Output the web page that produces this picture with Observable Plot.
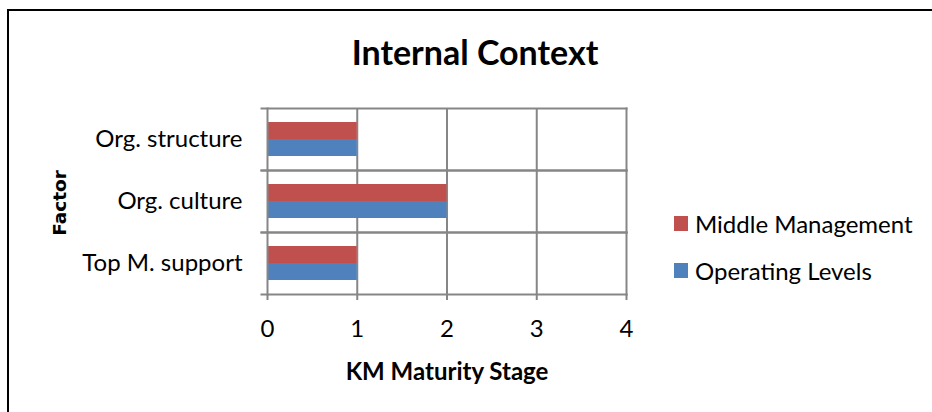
<!DOCTYPE html>
<html>
<head>
<meta charset="utf-8">
<script src="https://cdn.jsdelivr.net/npm/d3@7"></script>
<script src="https://cdn.jsdelivr.net/npm/@observablehq/plot@0.6"></script>
<style>
  html, body { margin: 0; padding: 0; background: #fff; }
  #wrap { position: relative; width: 932px; height: 412px; overflow: hidden; background: #fff; font-family: Lato, sans-serif; }
  #border { position: absolute; left: 7px; top: 9px; width: 1000px; height: 1000px; border: 2px solid #000; box-sizing: border-box; }
  #chart { position: absolute; left: 0; top: 0; }
  #title { position: absolute; left: 225px; width: 500px; top: 35px; text-align: center; font-size: 34px; line-height: 34px; font-weight: bold; color: #000; }
  #ylabel { position: absolute; left: 59px; top: 203px; transform: translate(-50%, -50%) rotate(-90deg); font-family: "DejaVu Sans", sans-serif; font-weight: bold; font-size: 18.5px; line-height: 19px; white-space: nowrap; color: #000; }
  #legend { position: absolute; left: 674px; top: 210px; font-size: 24px; color: #000; }
  .item { display: flex; align-items: center; height: 26px; margin-bottom: 21px; white-space: nowrap; }
  .swatch { width: 14px; height: 15px; margin-right: 7px; }
  g[aria-label="x-axis label"] text { font-weight: bold; }
</style>
</head>
<body>
<div id="wrap">
  <div id="border"></div>
  <div id="chart"></div>
  <div id="title">Internal Context</div>
  <div id="ylabel">Factor</div>
  <div id="legend"></div>
</div>
<script>
// Factors on the vertical axis (top to bottom) and the two respondent groups.
const factors = ["Org. structure", "Org. culture", "Top M. support"];
const series = ["Middle Management", "Operating Levels"];
const seriesColors = ["#C0504D", "#4F81BD"];

// KM maturity stage per factor, for each group.
const middleManagement = [1, 2, 1];
const operatingLevels = [1, 2, 1];

// Tick values of the maturity-stage axis.
const xTicks = [0, 1, 2, 3, 4];

const rows = factors.flatMap((f, i) => [
  {factor: f, series: series[0], value: middleManagement[i]},
  {factor: f, series: series[1], value: operatingLevels[i]}
]);

const grid = "#868686";

const chart = Plot.plot({
  width: 932,
  height: 412,
  marginLeft: 267,
  marginRight: 306,
  marginTop: 107,
  marginBottom: 117,
  style: {fontFamily: "Lato, sans-serif", fontSize: "24px", color: "#000", background: "transparent"},
  x: {domain: [0, 4]},
  y: {domain: series, paddingInner: 0, paddingOuter: 0.74, axis: null},
  fy: {domain: factors, padding: 0, label: null},
  color: {domain: series, range: seriesColors},
  marks: [
    Plot.gridX(xTicks.slice(1, -1), {stroke: grid, strokeOpacity: 1, strokeWidth: 2}),
    Plot.barX(rows, {x: "value", y: "series", fy: "factor", fill: "series"}),
    Plot.frame({anchor: "top", insetLeft: -6, stroke: grid, strokeWidth: 2}),
    Plot.frame({anchor: "bottom", insetLeft: -6, stroke: grid, strokeWidth: 2}),
    Plot.frame({anchor: "left", stroke: grid, strokeWidth: 2}),
    Plot.frame({anchor: "right", stroke: grid, strokeWidth: 2}),
    Plot.axisX({
      ticks: xTicks, tickSize: 6, tickPadding: 19, stroke: grid, strokeWidth: 2,
      fontSize: 24, tickFormat: d3.format("d"),
      label: "KM Maturity Stage", labelAnchor: "center", labelArrow: "none", labelOffset: 85
    }),
    Plot.axisFy({anchor: "left", tickSize: 0, tickPadding: 25, fontSize: 24, label: null})
  ]
});
document.getElementById("chart").append(chart);

// Legend beside the plot, one swatch per group.
const legend = document.getElementById("legend");
series.forEach((s, i) => {
  const item = document.createElement("div");
  item.className = "item";
  const sw = document.createElement("span");
  sw.className = "swatch";
  sw.style.background = seriesColors[i];
  const label = document.createElement("span");
  label.textContent = s;
  item.append(sw, label);
  legend.append(item);
});
</script>
</body>
</html>
